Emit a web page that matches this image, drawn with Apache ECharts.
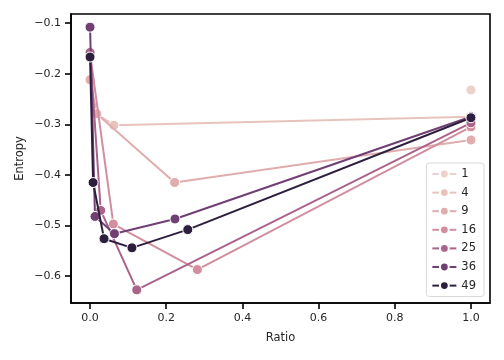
<!DOCTYPE html>
<html><head><meta charset="utf-8">
<script src="https://cdn.jsdelivr.net/npm/echarts@6/dist/echarts.min.js"></script>
<style>html,body{margin:0;padding:0;background:#fff}#c{width:504px;height:360px}</style>
</head><body><div id="c"></div>
<script>
const hueLevels = ['1', '4', '9', '16', '25', '36', '49'];
const colors = ['#edd1cb', '#e8c3bd', '#e0adae', '#d28e9f', '#aa6389', '#703f74', '#2d1e3e'];
const ratio1 = [1.0];
const entropy1 = [-0.232];
const ratio4 = [0.0175, 0.0625, 1.0];
const entropy4 = [-0.279, -0.302, -0.285];
const ratio9 = [0.0, 0.0175, 0.222, 1.0];
const entropy9 = [-0.212, -0.279, -0.415, -0.331];
const ratio16 = [0.0, 0.0612, 0.2818, 1.0];
const entropy16 = [-0.160, -0.497, -0.587, -0.305];
const ratio25 = [0.0, 0.028, 0.1226, 1.0];
const entropy25 = [-0.158, -0.470, -0.627, -0.297];
const ratio36 = [0.0, 0.013, 0.064, 0.223, 1.0];
const entropy36 = [-0.108, -0.482, -0.516, -0.487, -0.285];
const ratio49 = [0.0, 0.008, 0.0368, 0.110, 0.2566, 1.0];
const entropy49 = [-0.167, -0.415, -0.526, -0.544, -0.508, -0.287];
const xTicks = [0.0, 0.2, 0.4, 0.6, 0.8, 1.0];
const yTicks = [-0.6, -0.5, -0.4, -0.3, -0.2, -0.1];

const ratios = [ratio1, ratio4, ratio9, ratio16, ratio25, ratio36, ratio49];
const entropies = [entropy1, entropy4, entropy9, entropy16, entropy25, entropy36, entropy49];
const font = 'DejaVu Sans';
const fmt = v => (v < 0 ? '\u2212' : '') + Math.abs(v).toFixed(1);

const series = hueLevels.map((name, i) => ({
  name: name,
  type: 'line',
  data: ratios[i].map((x, j) => [x, entropies[i][j]]),
  symbol: 'circle',
  symbolSize: 10,
  showSymbol: true,
  lineStyle: {width: 2, color: colors[i]},
  itemStyle: {color: colors[i], borderColor: '#fff', borderWidth: 1},
  emphasis: {disabled: true},
  animation: false,
  z: 2 + i
}));

const chart = echarts.init(document.getElementById('c'), null, {renderer: 'canvas'});
chart.setOption({
  animation: false,
  textStyle: {fontFamily: font},
  grid: {left: 71, right: 14, top: 14, bottom: 57, show: false},
  xAxis: {
    type: 'value', min: -0.05, max: 1.05,
    name: 'Ratio', nameLocation: 'middle', nameGap: 29, nameMoveOverlap: false,
    nameTextStyle: {fontFamily: font, fontSize: 11.5, color: '#262626'},
    axisLine: {show: true, onZero: false, lineStyle: {color: '#000', width: 1.6}},
    axisTick: {show: true, length: 6, lineStyle: {color: '#000', width: 1.6}, customValues: xTicks},
    axisLabel: {fontFamily: font, fontSize: 11, color: '#262626', margin: 10, customValues: xTicks, formatter: fmt},
    splitLine: {show: false}
  },
  yAxis: {
    type: 'value', min: -0.653, max: -0.082,
    name: 'Entropy', nameLocation: 'middle', nameGap: 45, nameRotate: 90, nameMoveOverlap: false,
    nameTextStyle: {fontFamily: font, fontSize: 11.5, color: '#262626'},
    axisLine: {show: true, onZero: false, lineStyle: {color: '#000', width: 1.6}},
    axisTick: {show: true, length: 6, lineStyle: {color: '#000', width: 1.6}, customValues: yTicks},
    axisLabel: {fontFamily: font, fontSize: 11, color: '#262626', margin: 10, customValues: yTicks, formatter: fmt},
    splitLine: {show: false}
  },
  legend: {
    data: hueLevels,
    orient: 'vertical',
    right: 20, top: 163,
    backgroundColor: 'rgba(255,255,255,0.8)',
    borderColor: '#d8d8d8', borderWidth: 1, borderRadius: 3,
    padding: [5, 8, 5, 5],
    itemWidth: 24, itemHeight: 11, itemGap: 6.6,
    textStyle: {fontFamily: font, fontSize: 11.5, color: '#262626'}
  },
  graphic: [{
    type: 'rect', shape: {x: 71, y: 14, width: 419, height: 289},
    style: {fill: 'none', stroke: '#000', lineWidth: 1.6}, silent: true, z: 100
  }],
  series: series
});
</script></body></html>
